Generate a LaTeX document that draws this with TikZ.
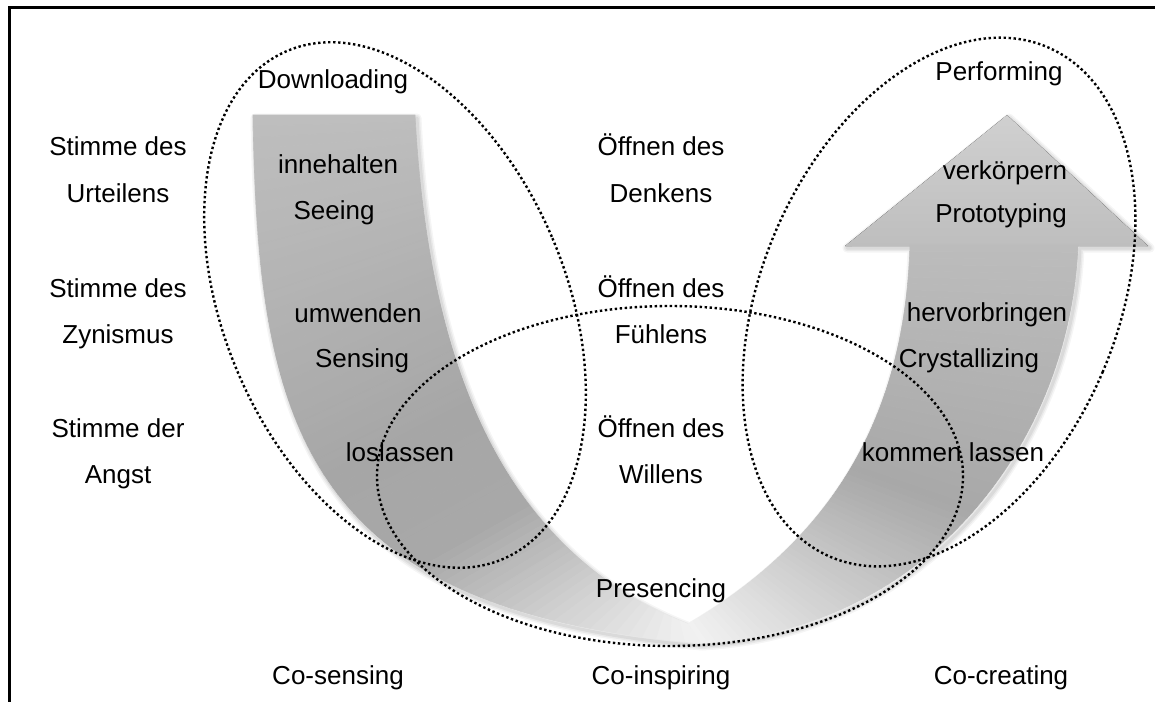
\documentclass[tikz,border=0pt]{standalone}
\usepackage{fontspec}
\setmainfont{Liberation Sans}
% outline of the U-turn arrow (left band, bottom, right band, arrow head)
\newcommand\uturnpath{(253,115) .. controls (258,420) and (300,610) .. (700,643)
  .. controls (930,630) and (1070,440) .. (1078,245) -- (1148,245) -- (1007,115)
  -- (845,245) -- (910,245) .. controls (905,420) and (830,540) .. (688,624)
  .. controls (470,540) and (425,300) .. (415,115) -- cycle}
\begin{document}
\begin{tikzpicture}[x=1pt,y=-1pt,
  lbl/.style={font=\fontsize{26}{30}\selectfont, anchor=base, inner sep=0pt},
  field/.style={draw=black, line width=2.4pt, dash pattern=on 2.4pt off 2.6pt}]
\useasboundingbox (0,0) rectangle (1155,702);
\fill[white] (0,0) rectangle (1155,702);

% frame
\coordinate (fTR) at (1155,7.5);
\coordinate (fTL) at (9.5,7.5);
\coordinate (fBL) at (9.5,702);
\draw[line width=3pt] (fTR) -- (fTL) -- (fBL);

% soft shadow of the arrow
\foreach \w/\o in {9/0.04,6/0.05,3/0.06}
  \draw[line width=\w pt, draw=black, opacity=\o, line join=round, shift={(2,3)}] \uturnpath;

% sample points along both bands
\foreach \i in {0,...,80} {
  \pgfmathsetmacro\tpos{\i/80}
  \path (253,115) .. controls (258,420) and (300,610) .. (700,643) coordinate[pos=\tpos] (Lo\i);
  \path (415,115) .. controls (425,300) and (470,540) .. (688,624) coordinate[pos=\tpos] (Li\i);
  \path (700,643) .. controls (930,630) and (1070,440) .. (1078,245) coordinate[pos=\tpos] (Ro\i);
  \path (688,624) .. controls (830,540) and (905,420) .. (910,245) coordinate[pos=\tpos] (Ri\i);
}

% arrow head
\fill[top color={rgb,255:red,208;green,208;blue,208}, bottom color={rgb,255:red,190;green,190;blue,190}]
  (845,246) -- (1007,115) -- (1148,246) -- cycle;

% right band, light at the bottom
\foreach \i in {0,...,79} {
  \pgfmathtruncatemacro\j{\i+1}
  \pgfmathsetmacro\tm{(\i+0.5)/80}
  \pgfmathsetmacro\gr{((\tm<0.5) ? (242-148*\tm) : (168+40*(\tm-0.5)))/255}
  \definecolor{stripR}{gray}{\gr}
  \fill[stripR, draw=stripR, line width=0.6pt] (Ro\i) -- (Ro\j) -- (Ri\j) -- (Ri\i) -- cycle;
}

% left band, fading out towards the bottom
\foreach \i in {0,...,79} {
  \pgfmathtruncatemacro\j{\i+1}
  \pgfmathsetmacro\tm{(\i+0.5)/80}
  \pgfmathsetmacro\gl{((\tm<0.5) ? (190-48*\tm) : ((\tm<0.68) ? (166+11*(\tm-0.5)) : (168+231*(\tm-0.68))))/255}
  \definecolor{stripL}{gray}{\gl}
  \fill[stripL, draw=stripL, line width=0.6pt] (Lo\i) -- (Lo\j) -- (Li\j) -- (Li\i) -- cycle;
}

% dotted fields
\draw[field, rotate around={23:(395,305)}] (395,305) ellipse (171 and 276);
\draw[field, rotate around={-23:(939,302)}] (939,302) ellipse (178 and 277);
\draw[field] (670,476) ellipse (293 and 170);

% labels
\node[lbl] (down) at (333,88) {Downloading};
\node[lbl] (perf) at (999,80) {Performing};

\node[lbl] (s1a) at (118,155) {Stimme des};
\node[lbl] (s1b) at (118,202) {Urteilens};
\node[lbl] (s2a) at (118,297) {Stimme des};
\node[lbl] (s2b) at (118,343) {Zynismus};
\node[lbl] (s3a) at (118,437) {Stimme der};
\node[lbl] (s3b) at (118,483) {Angst};

\node[lbl] (o1a) at (661,155) {Öffnen des};
\node[lbl] (o1b) at (661,202) {Denkens};
\node[lbl] (o2a) at (661,297) {Öffnen des};
\node[lbl] (o2b) at (661,343) {Fühlens};
\node[lbl] (o3a) at (661,437) {Öffnen des};
\node[lbl] (o3b) at (661,483) {Willens};

\node[lbl] (inne) at (338,173) {innehalten};
\node[lbl] (seei) at (334,219) {Seeing};
\node[lbl] (umwe) at (358,322) {umwenden};
\node[lbl] (sens) at (362,367) {Sensing};
\node[lbl] (losl) at (400,461) {loslassen};

\node[lbl] (verk) at (1005,179) {verkörpern};
\node[lbl] (prot) at (1001,222) {Prototyping};
\node[lbl] (herv) at (987,321) {hervorbringen};
\node[lbl] (crys) at (969,367) {Crystallizing};
\node[lbl] (komm) at (953,461) {kommen lassen};

\node[lbl] (pres) at (661,597) {Presencing};

\node[lbl] (cosen) at (338,684) {Co-sensing};
\node[lbl] (coins) at (661,684) {Co-inspiring};
\node[lbl] (cocre) at (1001,684) {Co-creating};
\end{tikzpicture}
\end{document}
